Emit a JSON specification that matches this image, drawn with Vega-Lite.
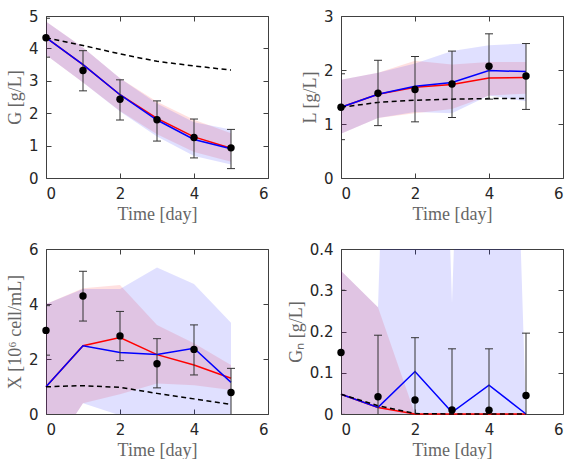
{
  "$schema": "https://vega.github.io/schema/vega-lite/v6.json",
  "padding": {"left": 5, "top": 8, "right": 0, "bottom": 0},
  "background": "white",
  "datasets": {
    "d": [
      {"p":"G","t":0,"obs":4.33,"elo":3.73,"ehi":4.93,"red":4.33,"blue":4.33,"dash":4.33,"rlo":3.8,"rhi":4.83,"blo":3.8,"bhi":4.83},
      {"p":"G","t":1,"obs":3.32,"elo":2.69,"ehi":3.93,"red":3.5,"blue":3.5,"dash":4.09,"rlo":2.95,"rhi":4.03,"blo":2.95,"bhi":4.03},
      {"p":"G","t":2,"obs":2.43,"elo":1.79,"ehi":3.03,"red":2.57,"blue":2.57,"dash":3.83,"rlo":2.07,"rhi":3.08,"blo":2.05,"bhi":3.08},
      {"p":"G","t":3,"obs":1.8,"elo":1.14,"ehi":2.38,"red":1.84,"blue":1.79,"dash":3.6,"rlo":1.35,"rhi":2.35,"blo":1.28,"bhi":2.3},
      {"p":"G","t":4,"obs":1.25,"elo":0.62,"ehi":1.82,"red":1.27,"blue":1.19,"dash":3.46,"rlo":0.8,"rhi":1.8,"blo":0.68,"bhi":1.72},
      {"p":"G","t":5,"obs":0.93,"elo":0.29,"ehi":1.5,"red":0.92,"blue":0.9,"dash":3.33,"rlo":0.5,"rhi":1.38,"blo":0.42,"bhi":1.5},
      {"p":"L","t":0,"obs":1.31,"elo":0.71,"ehi":1.93,"red":1.31,"blue":1.31,"dash":1.31,"rlo":0.82,"rhi":1.82,"blo":0.82,"bhi":1.82},
      {"p":"L","t":1,"obs":1.57,"elo":0.97,"ehi":2.18,"red":1.55,"blue":1.55,"dash":1.4,"rlo":1.11,"rhi":1.95,"blo":1.11,"bhi":1.95},
      {"p":"L","t":2,"obs":1.64,"elo":1.04,"ehi":2.25,"red":1.68,"blue":1.7,"dash":1.44,"rlo":1.2,"rhi":2.17,"blo":1.22,"bhi":2.12},
      {"p":"L","t":3,"obs":1.74,"elo":1.12,"ehi":2.35,"red":1.73,"blue":1.77,"dash":1.46,"rlo":1.28,"rhi":2.1,"blo":1.2,"bhi":2.35},
      {"p":"L","t":4,"obs":2.07,"elo":1.46,"ehi":2.67,"red":1.85,"blue":1.99,"dash":1.47,"rlo":1.53,"rhi":2.15,"blo":1.53,"bhi":2.46},
      {"p":"L","t":5,"obs":1.89,"elo":1.27,"ehi":2.49,"red":1.86,"blue":1.97,"dash":1.47,"rlo":1.56,"rhi":2.15,"blo":1.42,"bhi":2.49},
      {"p":"X","t":0,"obs":3.04,"elo":2.14,"ehi":3.94,"red":0.99,"blue":0.99,"dash":0.99,"rlo":-1.66,"rhi":4.0,"blo":-1.66,"bhi":4.0},
      {"p":"X","t":1,"obs":4.29,"elo":3.38,"ehi":5.19,"red":2.48,"blue":2.48,"dash":1.03,"rlo":0.39,"rhi":4.57,"blo":0.39,"bhi":4.55},
      {"p":"X","t":2,"obs":2.84,"elo":1.94,"ehi":3.73,"red":2.78,"blue":2.24,"dash":0.97,"rlo":0.72,"rhi":4.69,"blo":-0.05,"bhi":4.55},
      {"p":"X","t":3,"obs":1.83,"elo":0.95,"ehi":2.74,"red":2.16,"blue":2.16,"dash":0.75,"rlo":1.11,"rhi":3.24,"blo":-0.5,"bhi":5.33},
      {"p":"X","t":4,"obs":2.35,"elo":1.42,"ehi":3.24,"red":1.78,"blue":2.39,"dash":0.55,"rlo":1.05,"rhi":2.57,"blo":-0.5,"bhi":4.73},
      {"p":"X","t":5,"obs":0.78,"elo":-0.12,"ehi":1.66,"red":1.3,"blue":1.15,"dash":0.35,"rlo":0.87,"rhi":1.78,"blo":-0.5,"bhi":3.32},
      {"p":"Gn","t":0,"obs":0.149,"elo":-0.001,"ehi":0.3,"red":0.048,"blue":0.048,"dash":0.048,"rlo":-0.3,"rhi":0.347,"blo":-0.3,"bhi":0.347},
      {"p":"Gn","t":1,"obs":0.042,"elo":-0.108,"ehi":0.191,"red":0.016,"blue":0.016,"dash":0.02,"rlo":-0.2,"rhi":0.259,"blo":-0.2,"bhi":0.259},
      {"p":"Gn","t":2,"obs":0.034,"elo":-0.116,"ehi":0.185,"red":0.0,"blue":0.103,"dash":0.001,"rlo":-0.1,"rhi":0.0,"blo":-0.2,"bhi":3.0},
      {"p":"Gn","t":3,"obs":0.0097,"elo":-0.14,"ehi":0.158,"red":0.0,"blue":0.004,"dash":0.0,"rlo":-0.1,"rhi":0.0,"blo":-0.2,"bhi":0.27},
      {"p":"Gn","t":4,"obs":0.009,"elo":-0.14,"ehi":0.158,"red":0.0,"blue":0.07,"dash":0.0,"rlo":-0.1,"rhi":0.0,"blo":-0.2,"bhi":2.86},
      {"p":"Gn","t":5,"obs":0.045,"elo":-0.104,"ehi":0.196,"red":0.0,"blue":0.0,"dash":0.0,"rlo":-0.1,"rhi":0.0,"blo":-0.2,"bhi":0.0}
    ]
  },
  "data": {"name": "d"},
  "columns": 2,
  "spacing": {"row": 71, "column": 73},
  "bounds": "flush",
  "concat": [
    {
      "width": 222, "height": 162,
      "transform": [{"filter": "datum.p == 'G'"}],
      "resolve": {"axis": {"x": "independent", "y": "independent"}},
      "layer": [
        {"mark": {"type": "area", "color": "#ff0000", "opacity": 0.12, "clip": true},
         "encoding": {
           "x": {"field": "t", "type": "quantitative", "scale": {"domain": [0, 6], "nice": false}, "axis": {"orient": "bottom", "values": [0, 2, 4, 6], "title": "Time [day]"}},
           "y": {"field": "rlo", "type": "quantitative", "scale": {"domain": [0, 5], "nice": false, "zero": false}, "axis": {"orient": "left", "values": [0, 1, 2, 3, 4, 5], "title": "G [g/L]"}},
           "y2": {"field": "rhi"}}},
        {"mark": {"type": "area", "color": "#0000ff", "opacity": 0.12, "clip": true},
         "encoding": {
           "x": {"field": "t", "type": "quantitative", "scale": {"domain": [0, 6], "nice": false}, "axis": {"orient": "top", "values": [0, 2, 4, 6], "labels": false, "title": null}},
           "y": {"field": "blo", "type": "quantitative", "scale": {"domain": [0, 5], "nice": false, "zero": false}, "axis": {"orient": "right", "values": [0, 1, 2, 3, 4, 5], "labels": false, "title": null}},
           "y2": {"field": "bhi"}}},
        {"mark": {"type": "line", "color": "#ff0000", "strokeWidth": 1.5},
         "encoding": {
           "x": {"field": "t", "type": "quantitative", "scale": {"domain": [0, 6], "nice": false}, "axis": null},
           "y": {"field": "red", "type": "quantitative", "scale": {"domain": [0, 5], "nice": false, "zero": false}, "axis": null}}},
        {"mark": {"type": "line", "color": "#0000ff", "strokeWidth": 1.5},
         "encoding": {
           "x": {"field": "t", "type": "quantitative", "scale": {"domain": [0, 6], "nice": false}, "axis": null},
           "y": {"field": "blue", "type": "quantitative", "scale": {"domain": [0, 5], "nice": false, "zero": false}, "axis": null}}},
        {"mark": {"type": "line", "color": "#000000", "strokeWidth": 1.5, "strokeDash": [5, 3.5]},
         "encoding": {
           "x": {"field": "t", "type": "quantitative", "scale": {"domain": [0, 6], "nice": false}, "axis": null},
           "y": {"field": "dash", "type": "quantitative", "scale": {"domain": [0, 5], "nice": false, "zero": false}, "axis": null}}},
        {"mark": {"type": "rule", "color": "#333333", "strokeWidth": 1, "clip": true},
         "encoding": {
           "x": {"field": "t", "type": "quantitative", "scale": {"domain": [0, 6], "nice": false}, "axis": null},
           "y": {"field": "elo", "type": "quantitative", "scale": {"domain": [0, 5], "nice": false, "zero": false}, "axis": null},
           "y2": {"field": "ehi"}}},
        {"mark": {"type": "tick", "color": "#333333", "orient": "horizontal", "size": 8, "thickness": 1, "opacity": 1, "clip": true},
         "encoding": {
           "x": {"field": "t", "type": "quantitative", "scale": {"domain": [0, 6], "nice": false}, "axis": null},
           "y": {"field": "elo", "type": "quantitative", "scale": {"domain": [0, 5], "nice": false, "zero": false}, "axis": null}}},
        {"mark": {"type": "tick", "color": "#333333", "orient": "horizontal", "size": 8, "thickness": 1, "opacity": 1, "clip": true},
         "encoding": {
           "x": {"field": "t", "type": "quantitative", "scale": {"domain": [0, 6], "nice": false}, "axis": null},
           "y": {"field": "ehi", "type": "quantitative", "scale": {"domain": [0, 5], "nice": false, "zero": false}, "axis": null}}},
        {"mark": {"type": "point", "shape": "circle", "filled": true, "color": "#000000", "size": 55, "opacity": 1},
         "encoding": {
           "x": {"field": "t", "type": "quantitative", "scale": {"domain": [0, 6], "nice": false}, "axis": null},
           "y": {"field": "obs", "type": "quantitative", "scale": {"domain": [0, 5], "nice": false, "zero": false}, "axis": null}}}
      ]
    },
    {
      "width": 222, "height": 162,
      "transform": [{"filter": "datum.p == 'L'"}],
      "resolve": {"axis": {"x": "independent", "y": "independent"}},
      "layer": [
        {"mark": {"type": "area", "color": "#ff0000", "opacity": 0.12, "clip": true},
         "encoding": {
           "x": {"field": "t", "type": "quantitative", "scale": {"domain": [0, 6], "nice": false}, "axis": {"orient": "bottom", "values": [0, 2, 4, 6], "title": "Time [day]"}},
           "y": {"field": "rlo", "type": "quantitative", "scale": {"domain": [0, 3], "nice": false, "zero": false}, "axis": {"orient": "left", "values": [0, 1, 2, 3], "title": "L [g/L]"}},
           "y2": {"field": "rhi"}}},
        {"mark": {"type": "area", "color": "#0000ff", "opacity": 0.12, "clip": true},
         "encoding": {
           "x": {"field": "t", "type": "quantitative", "scale": {"domain": [0, 6], "nice": false}, "axis": {"orient": "top", "values": [0, 2, 4, 6], "labels": false, "title": null}},
           "y": {"field": "blo", "type": "quantitative", "scale": {"domain": [0, 3], "nice": false, "zero": false}, "axis": {"orient": "right", "values": [0, 1, 2, 3], "labels": false, "title": null}},
           "y2": {"field": "bhi"}}},
        {"mark": {"type": "line", "color": "#ff0000", "strokeWidth": 1.5},
         "encoding": {
           "x": {"field": "t", "type": "quantitative", "scale": {"domain": [0, 6], "nice": false}, "axis": null},
           "y": {"field": "red", "type": "quantitative", "scale": {"domain": [0, 3], "nice": false, "zero": false}, "axis": null}}},
        {"mark": {"type": "line", "color": "#0000ff", "strokeWidth": 1.5},
         "encoding": {
           "x": {"field": "t", "type": "quantitative", "scale": {"domain": [0, 6], "nice": false}, "axis": null},
           "y": {"field": "blue", "type": "quantitative", "scale": {"domain": [0, 3], "nice": false, "zero": false}, "axis": null}}},
        {"mark": {"type": "line", "color": "#000000", "strokeWidth": 1.5, "strokeDash": [5, 3.5]},
         "encoding": {
           "x": {"field": "t", "type": "quantitative", "scale": {"domain": [0, 6], "nice": false}, "axis": null},
           "y": {"field": "dash", "type": "quantitative", "scale": {"domain": [0, 3], "nice": false, "zero": false}, "axis": null}}},
        {"mark": {"type": "rule", "color": "#333333", "strokeWidth": 1, "clip": true},
         "encoding": {
           "x": {"field": "t", "type": "quantitative", "scale": {"domain": [0, 6], "nice": false}, "axis": null},
           "y": {"field": "elo", "type": "quantitative", "scale": {"domain": [0, 3], "nice": false, "zero": false}, "axis": null},
           "y2": {"field": "ehi"}}},
        {"mark": {"type": "tick", "color": "#333333", "orient": "horizontal", "size": 8, "thickness": 1, "opacity": 1, "clip": true},
         "encoding": {
           "x": {"field": "t", "type": "quantitative", "scale": {"domain": [0, 6], "nice": false}, "axis": null},
           "y": {"field": "elo", "type": "quantitative", "scale": {"domain": [0, 3], "nice": false, "zero": false}, "axis": null}}},
        {"mark": {"type": "tick", "color": "#333333", "orient": "horizontal", "size": 8, "thickness": 1, "opacity": 1, "clip": true},
         "encoding": {
           "x": {"field": "t", "type": "quantitative", "scale": {"domain": [0, 6], "nice": false}, "axis": null},
           "y": {"field": "ehi", "type": "quantitative", "scale": {"domain": [0, 3], "nice": false, "zero": false}, "axis": null}}},
        {"mark": {"type": "point", "shape": "circle", "filled": true, "color": "#000000", "size": 55, "opacity": 1},
         "encoding": {
           "x": {"field": "t", "type": "quantitative", "scale": {"domain": [0, 6], "nice": false}, "axis": null},
           "y": {"field": "obs", "type": "quantitative", "scale": {"domain": [0, 3], "nice": false, "zero": false}, "axis": null}}}
      ]
    },
    {
      "width": 222, "height": 165,
      "transform": [{"filter": "datum.p == 'X'"}],
      "resolve": {"axis": {"x": "independent", "y": "independent"}},
      "layer": [
        {"mark": {"type": "area", "color": "#ff0000", "opacity": 0.12, "clip": true},
         "encoding": {
           "x": {"field": "t", "type": "quantitative", "scale": {"domain": [0, 6], "nice": false}, "axis": {"orient": "bottom", "values": [0, 2, 4, 6], "title": "Time [day]"}},
           "y": {"field": "rlo", "type": "quantitative", "scale": {"domain": [0, 6], "nice": false, "zero": false}, "axis": {"orient": "left", "values": [0, 2, 4, 6], "title": "X [10⁶ cell/mL]"}},
           "y2": {"field": "rhi"}}},
        {"mark": {"type": "area", "color": "#0000ff", "opacity": 0.12, "clip": true},
         "encoding": {
           "x": {"field": "t", "type": "quantitative", "scale": {"domain": [0, 6], "nice": false}, "axis": {"orient": "top", "values": [0, 2, 4, 6], "labels": false, "title": null}},
           "y": {"field": "blo", "type": "quantitative", "scale": {"domain": [0, 6], "nice": false, "zero": false}, "axis": {"orient": "right", "values": [0, 2, 4, 6], "labels": false, "title": null}},
           "y2": {"field": "bhi"}}},
        {"mark": {"type": "line", "color": "#ff0000", "strokeWidth": 1.5},
         "encoding": {
           "x": {"field": "t", "type": "quantitative", "scale": {"domain": [0, 6], "nice": false}, "axis": null},
           "y": {"field": "red", "type": "quantitative", "scale": {"domain": [0, 6], "nice": false, "zero": false}, "axis": null}}},
        {"mark": {"type": "line", "color": "#0000ff", "strokeWidth": 1.5},
         "encoding": {
           "x": {"field": "t", "type": "quantitative", "scale": {"domain": [0, 6], "nice": false}, "axis": null},
           "y": {"field": "blue", "type": "quantitative", "scale": {"domain": [0, 6], "nice": false, "zero": false}, "axis": null}}},
        {"mark": {"type": "line", "color": "#000000", "strokeWidth": 1.5, "strokeDash": [5, 3.5]},
         "encoding": {
           "x": {"field": "t", "type": "quantitative", "scale": {"domain": [0, 6], "nice": false}, "axis": null},
           "y": {"field": "dash", "type": "quantitative", "scale": {"domain": [0, 6], "nice": false, "zero": false}, "axis": null}}},
        {"mark": {"type": "rule", "color": "#333333", "strokeWidth": 1, "clip": true},
         "encoding": {
           "x": {"field": "t", "type": "quantitative", "scale": {"domain": [0, 6], "nice": false}, "axis": null},
           "y": {"field": "elo", "type": "quantitative", "scale": {"domain": [0, 6], "nice": false, "zero": false}, "axis": null},
           "y2": {"field": "ehi"}}},
        {"mark": {"type": "tick", "color": "#333333", "orient": "horizontal", "size": 8, "thickness": 1, "opacity": 1, "clip": true},
         "encoding": {
           "x": {"field": "t", "type": "quantitative", "scale": {"domain": [0, 6], "nice": false}, "axis": null},
           "y": {"field": "elo", "type": "quantitative", "scale": {"domain": [0, 6], "nice": false, "zero": false}, "axis": null}}},
        {"mark": {"type": "tick", "color": "#333333", "orient": "horizontal", "size": 8, "thickness": 1, "opacity": 1, "clip": true},
         "encoding": {
           "x": {"field": "t", "type": "quantitative", "scale": {"domain": [0, 6], "nice": false}, "axis": null},
           "y": {"field": "ehi", "type": "quantitative", "scale": {"domain": [0, 6], "nice": false, "zero": false}, "axis": null}}},
        {"mark": {"type": "point", "shape": "circle", "filled": true, "color": "#000000", "size": 55, "opacity": 1},
         "encoding": {
           "x": {"field": "t", "type": "quantitative", "scale": {"domain": [0, 6], "nice": false}, "axis": null},
           "y": {"field": "obs", "type": "quantitative", "scale": {"domain": [0, 6], "nice": false, "zero": false}, "axis": null}}}
      ]
    },
    {
      "width": 222, "height": 165,
      "transform": [{"filter": "datum.p == 'Gn'"}],
      "resolve": {"axis": {"x": "independent", "y": "independent"}},
      "layer": [
        {"mark": {"type": "area", "color": "#ff0000", "opacity": 0.12, "clip": true},
         "encoding": {
           "x": {"field": "t", "type": "quantitative", "scale": {"domain": [0, 6], "nice": false}, "axis": {"orient": "bottom", "values": [0, 2, 4, 6], "title": "Time [day]"}},
           "y": {"field": "rlo", "type": "quantitative", "scale": {"domain": [0, 0.4], "nice": false, "zero": false}, "axis": {"orient": "left", "values": [0, 0.1, 0.2, 0.3, 0.4], "format": "~g", "title": "Gₙ [g/L]"}},
           "y2": {"field": "rhi"}}},
        {"mark": {"type": "area", "color": "#0000ff", "opacity": 0.12, "clip": true},
         "encoding": {
           "x": {"field": "t", "type": "quantitative", "scale": {"domain": [0, 6], "nice": false}, "axis": {"orient": "top", "values": [0, 2, 4, 6], "labels": false, "title": null}},
           "y": {"field": "blo", "type": "quantitative", "scale": {"domain": [0, 0.4], "nice": false, "zero": false}, "axis": {"orient": "right", "values": [0, 0.1, 0.2, 0.3, 0.4], "labels": false, "title": null}},
           "y2": {"field": "bhi"}}},
        {"mark": {"type": "line", "color": "#ff0000", "strokeWidth": 1.5},
         "encoding": {
           "x": {"field": "t", "type": "quantitative", "scale": {"domain": [0, 6], "nice": false}, "axis": null},
           "y": {"field": "red", "type": "quantitative", "scale": {"domain": [0, 0.4], "nice": false, "zero": false}, "axis": null}}},
        {"mark": {"type": "line", "color": "#0000ff", "strokeWidth": 1.5},
         "encoding": {
           "x": {"field": "t", "type": "quantitative", "scale": {"domain": [0, 6], "nice": false}, "axis": null},
           "y": {"field": "blue", "type": "quantitative", "scale": {"domain": [0, 0.4], "nice": false, "zero": false}, "axis": null}}},
        {"mark": {"type": "line", "color": "#000000", "strokeWidth": 1.5, "strokeDash": [5, 3.5]},
         "encoding": {
           "x": {"field": "t", "type": "quantitative", "scale": {"domain": [0, 6], "nice": false}, "axis": null},
           "y": {"field": "dash", "type": "quantitative", "scale": {"domain": [0, 0.4], "nice": false, "zero": false}, "axis": null}}},
        {"mark": {"type": "rule", "color": "#333333", "strokeWidth": 1, "clip": true},
         "encoding": {
           "x": {"field": "t", "type": "quantitative", "scale": {"domain": [0, 6], "nice": false}, "axis": null},
           "y": {"field": "elo", "type": "quantitative", "scale": {"domain": [0, 0.4], "nice": false, "zero": false}, "axis": null},
           "y2": {"field": "ehi"}}},
        {"mark": {"type": "tick", "color": "#333333", "orient": "horizontal", "size": 8, "thickness": 1, "opacity": 1, "clip": true},
         "encoding": {
           "x": {"field": "t", "type": "quantitative", "scale": {"domain": [0, 6], "nice": false}, "axis": null},
           "y": {"field": "elo", "type": "quantitative", "scale": {"domain": [0, 0.4], "nice": false, "zero": false}, "axis": null}}},
        {"mark": {"type": "tick", "color": "#333333", "orient": "horizontal", "size": 8, "thickness": 1, "opacity": 1, "clip": true},
         "encoding": {
           "x": {"field": "t", "type": "quantitative", "scale": {"domain": [0, 6], "nice": false}, "axis": null},
           "y": {"field": "ehi", "type": "quantitative", "scale": {"domain": [0, 0.4], "nice": false, "zero": false}, "axis": null}}},
        {"mark": {"type": "point", "shape": "circle", "filled": true, "color": "#000000", "size": 55, "opacity": 1},
         "encoding": {
           "x": {"field": "t", "type": "quantitative", "scale": {"domain": [0, 6], "nice": false}, "axis": null},
           "y": {"field": "obs", "type": "quantitative", "scale": {"domain": [0, 0.4], "nice": false, "zero": false}, "axis": null}}}
      ]
    }
  ],
  "config": {
    "view": {"stroke": "#404040", "strokeWidth": 1},
    "axis": {
      "domain": false, "grid": false,
      "tickSize": -5, "tickColor": "#404040", "tickWidth": 1,
      "labelFont": "DejaVu Sans", "labelFontSize": 15, "labelColor": "#262626", "labelPadding": 13,
      "titleFont": "Liberation Serif", "titleFontSize": 18, "titleFontWeight": 400, "titleColor": "#666666", "titlePadding": 4
    }
  }
}
